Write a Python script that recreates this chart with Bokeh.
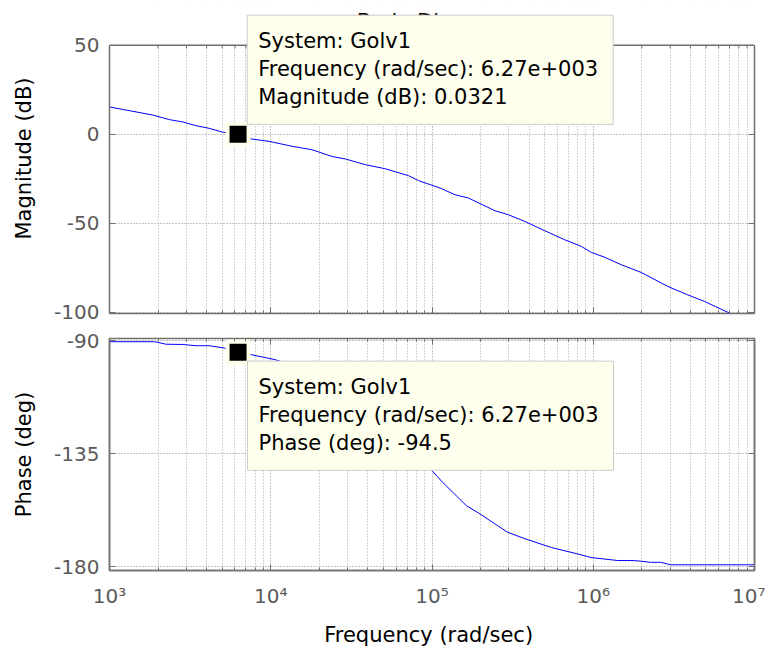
from bokeh.plotting import figure
from bokeh.layouts import column
from bokeh.models import FixedTicker, LogAxis, LinearAxis, Label, BoxAnnotation, Span
from bokeh.embed import file_html
from bokeh.resources import INLINE

# ---------------- data ----------------
freq_mag = [1.0e3, 1.85e3, 2.35e3, 2.84e3, 3.44e3, 4.15e3, 5.02e3, 6.27e3, 7.34e3,
            9.75e3, 1.36e4, 1.8e4, 2.4e4, 2.9e4, 3.86e4, 5.13e4, 7.16e4, 8.26e4,
            1.12e5, 1.39e5, 1.68e5, 2.46e5, 2.97e5, 3.77e5, 5.0e5, 6.66e5, 8.43e5,
            9.73e5, 1.17e6, 1.49e6, 1.98e6, 2.9e6, 3.85e6, 4.89e6, 7.13e6]
mag_db = [15.4, 10.9, 8.3, 7.0, 4.9, 3.4, 1.3, 0.0321, -2.4,
          -3.9, -6.7, -8.6, -12.4, -13.8, -17.0, -19.3, -23.2, -26.0,
          -30.1, -33.9, -35.7, -42.9, -45.1, -48.9, -54.1, -59.2, -62.9,
          -66.3, -68.9, -73.2, -77.5, -85.4, -90.1, -93.8, -100.7]

freq_ph = [1e3, 1.9e3, 2.24e3, 2.84e3, 3.44e3, 4.15e3, 5.14e3, 6.27e3, 7.34e3,
           1.07e4, 1.5e4, 2e4, 3e4, 4e4, 5e4, 6e4, 7.5e4, 9.57e4, 1.16e5,
           1.64e5, 1.95e5, 2.94e5, 3.77e5, 5.5e5, 8.05e5, 9.7e5, 1.42e6,
           1.8e6, 2.27e6, 2.62e6, 3.02e6, 1e7]
phase_deg = [-90.3, -90.3, -91.3, -91.4, -91.9, -91.9, -92.8, -94.5, -95.3,
             -97.5, -100.6, -104.0, -110.6, -116.6, -122.0, -126.9, -133.2, -140.4, -146.3,
             -155.8, -158.7, -166.3, -168.9, -172.4, -175.0, -176.4, -177.6,
             -177.6, -178.3, -178.3, -179.3, -179.3]

tip_freq = [6.27e3]
tip_mag = [0.0321]
tip_phase = [-94.5]
tip_mag_text = ["System: Golv1", "Frequency (rad/sec): 6.27e+003", "Magnitude (dB): 0.0321"]
tip_phase_text = ["System: Golv1", "Frequency (rad/sec): 6.27e+003", "Phase (deg): -94.5"]

x_major = [1e3, 1e4, 1e5, 1e6, 1e7]
x_labels = ["10\u00b3", "10\u2074", "10\u2075", "10\u2076", "10\u2077"]
x_minor = [m * d for d in x_major[:-1] for m in range(2, 10)]
mag_ticks = [-100, -50, 0, 50]
mag_tick_labels = ["-100", "-50", "0", "50"]
phase_ticks = [-180, -135, -90]
phase_tick_labels = ["-180", "-135", "-90"]

title_text = "Bode Diagram"
mag_label = "Magnitude (dB)"
phase_label = "Phase (deg)"
freq_label = "Frequency  (rad/sec)"

# ---------------- styling ----------------
FONT = "DejaVu Sans"
AX = "#707070"
TICKC = "#5a5a5a"
TIPFILL = "#FFFFEE"
TIPEDGE = "#CCCCCC"
MAG_RANGE = (-100.6, 73.52)     # extra room above the axes box for title / data tip
MAG_FRAME_PX = 310
MAG_TOP = 50                    # top edge of the magnitude axes box
PH_RANGE = (-181.57, -89.02)


def hide_labels(ax):
    ax.major_label_text_font_size = "1px"
    ax.major_label_text_alpha = 0
    ax.major_label_standoff = 0


def style_axis(ax):
    ax.axis_line_color = AX
    ax.axis_line_width = 1.5
    ax.major_tick_line_color = AX
    ax.minor_tick_line_color = AX
    ax.major_tick_in = 6
    ax.major_tick_out = 0
    ax.minor_tick_in = 3
    ax.minor_tick_out = 0
    ax.major_label_text_font = FONT
    ax.major_label_text_font_size = "20px"
    ax.major_label_text_color = TICKC
    ax.axis_label_text_font = FONT
    ax.axis_label_text_font_size = "21px"
    ax.axis_label_text_font_style = "normal"
    ax.axis_label_text_color = "black"


def make_fig(height, y_range, btop, bbottom, yticks, ylabels, ylabel, ybounds):
    p = figure(width=765, height=height, x_axis_type="log", x_range=(1e3, 1e7),
               y_range=y_range, output_backend="svg", toolbar_location=None,
               min_border_left=109, min_border_right=11,
               min_border_top=btop, min_border_bottom=bbottom)
    p.background_fill_color = "white"
    p.border_fill_color = "white"
    p.outline_line_color = None

    xax = p.below[0]
    yax = p.left[0]
    xax.ticker = FixedTicker(ticks=x_major, minor_ticks=x_minor)
    yax.ticker = FixedTicker(ticks=yticks)
    style_axis(xax)
    style_axis(yax)
    yax.major_label_overrides = dict(zip(yticks, ylabels))
    yax.major_label_standoff = 10
    yax.axis_label = ylabel
    yax.axis_label_standoff = 15
    yax.bounds = ybounds

    right_ax = LinearAxis(ticker=FixedTicker(ticks=yticks), bounds=ybounds)
    style_axis(right_ax)
    right_ax.minor_tick_line_color = None
    hide_labels(right_ax)
    p.add_layout(right_ax, "right")

    p.xgrid.grid_line_color = "#8a8a8a"
    p.xgrid.grid_line_dash = "1 2"
    p.xgrid.minor_grid_line_color = "#a8a8a8"
    p.xgrid.minor_grid_line_dash = "1 2"
    p.ygrid.grid_line_color = "#8a8a8a"
    p.ygrid.grid_line_dash = "1 2"
    return p, xax, yax


def tip_label(x, y, lines):
    return Label(x=x, y=y, text="\n".join(lines), text_align="left", text_baseline="top",
                 text_font=FONT, text_font_size="21px", text_color="black",
                 text_line_height=1.17, level="overlay",
                 background_fill_color=TIPFILL, background_fill_alpha=1.0,
                 border_line_color=TIPEDGE, border_line_width=1,
                 padding=dict(left=11, right=15, top=14, bottom=15))


# ---------------- top: magnitude ----------------
top, txax, tyax = make_fig(326, MAG_RANGE, 3, 13, mag_ticks, mag_tick_labels, mag_label,
                           (MAG_RANGE[0], MAG_TOP))
hide_labels(txax)
top.line(freq_mag, mag_db, line_color="#0000FF", line_width=1)
top.scatter(tip_freq, tip_mag, marker="square", size=21, fill_color="black",
            line_color=TIPFILL, line_width=4)
# inward tick marks on the top edge of the axes box (6 px major, 3 px minor)
px_per_db = MAG_FRAME_PX / (MAG_RANGE[1] - MAG_RANGE[0])
top.segment(x0=x_major, y0=[MAG_TOP] * len(x_major), x1=x_major,
            y1=[MAG_TOP - 6 / px_per_db] * len(x_major), line_color=AX, line_width=1)
top.segment(x0=x_minor, y0=[MAG_TOP] * len(x_minor), x1=x_minor,
            y1=[MAG_TOP - 3 / px_per_db] * len(x_minor), line_color=AX, line_width=1)
# blank out the grid above the axes box, then draw the box's top edge
top.add_layout(BoxAnnotation(bottom=MAG_TOP, fill_color="white", fill_alpha=1.0,
                             line_color=None, level="annotation"))
top.add_layout(Span(location=MAG_TOP, dimension="width", line_color=AX, line_width=1.5))
top.add_layout(Label(x=1e5, y=63.2, text=title_text, text_align="center",
                     text_baseline="alphabetic", text_font=FONT, text_font_size="21px",
                     text_color="black", level="overlay"))
top.add_layout(tip_label(10 ** 3.854, 66.94, tip_mag_text))

# ---------------- bottom: phase ----------------
bot, bxax, byax = make_fig(323, PH_RANGE, 12, 75, phase_ticks, phase_tick_labels,
                           phase_label, (PH_RANGE[0], PH_RANGE[1]))
bot.outline_line_color = AX
bot.outline_line_width = 1.5
bxax.major_label_overrides = dict(zip(x_major, x_labels))
bxax.major_label_standoff = 13
bxax.axis_label = freq_label
bxax.axis_label_standoff = 12
top_ax = LogAxis(ticker=FixedTicker(ticks=x_major, minor_ticks=x_minor))
style_axis(top_ax)
top_ax.axis_line_color = None
hide_labels(top_ax)
bot.add_layout(top_ax, "above")
bot.line(freq_ph, phase_deg, line_color="#0000FF", line_width=1)
bot.scatter(tip_freq, tip_phase, marker="square", size=21, fill_color="black",
            line_color=TIPFILL, line_width=4)
bot.add_layout(tip_label(10 ** 3.856, -98.04, tip_phase_text))

layout = column(top, bot, spacing=0)
open("out.html", "w").write(file_html(layout, INLINE))
